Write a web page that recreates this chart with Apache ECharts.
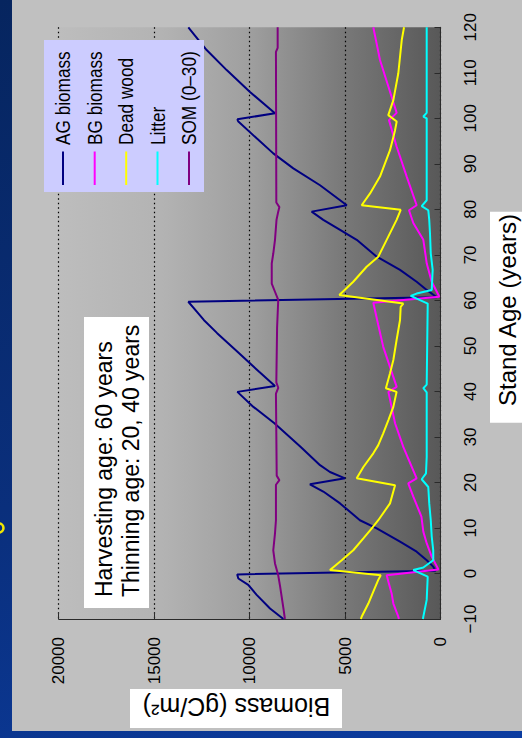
<!DOCTYPE html>
<html>
<head>
<meta charset="utf-8">
<title>Stand carbon pools</title>
<script src="https://cdn.jsdelivr.net/npm/echarts@6/dist/echarts.min.js"></script>
<style>
  html, body { margin: 0; padding: 0; width: 522px; height: 738px; overflow: hidden;
    background: linear-gradient(160deg, #06255f 0%, #0a2f7c 55%, #0b3ca0 100%); }
  #panel { position: absolute; left: 12px; top: 0; width: 510px; height: 731px; background: #c0c0c0; }
  #chart { position: absolute; left: 0; top: 0; width: 522px; height: 738px; }
</style>
</head>
<body>
<div id="panel"></div>
<div id="chart"></div>
<script>
// Tick values of the two axes
const ageTicks = [-10, 0, 10, 20, 30, 40, 50, 60, 70, 80, 90, 100, 110, 120];
const biomassTicks = [0, 5000, 10000, 15000, 20000];

// Pool names and colours
const poolNames = ['AG biomass', 'BG biomass', 'Dead wood', 'Litter', 'SOM (0\u201330)'];
const poolColors = ['#000080', '#ff00ff', '#ffff00', '#00ffff', '#800080'];

// Each pool: [stand age (years), carbon (gC/m2)]
const agBiomass = [[-10,8230],[-7.7,8930],[-4.7,9630],[-2.5,10070],[-1.1,10590],[-0.2,10650],[0.6,250],[1.5,380],[2.9,720],[4.8,1250],[7.0,2120],[9.9,3340],[11.7,4220],[15.4,5260],[18.0,6140],[19.6,6840],[20.9,5000],[22.3,5790],[23.8,6310],[27.8,7320],[30.0,7900],[33.0,8700],[36.6,9800],[39.9,10640],[41.2,8670],[44.3,9500],[48.4,10550],[52.8,11700],[55.7,12400],[57.2,12700],[59.7,13210],[60.7,200],[62.3,720],[64.1,1250],[66.7,2120],[69.6,3340],[73.3,4390],[75.5,5260],[77.7,6140],[79.5,6750],[80.9,4910],[85.3,6310],[89.0,7710],[92.3,8760],[95.6,9630],[99.3,10590],[99.8,10640],[101.1,8670],[105.8,9980],[110.6,11200],[115.0,12250],[120,13210]];
const bgBiomass = [[-10,2180],[-9.5,2210],[-6.6,2470],[-4.4,2560],[-1.8,2730],[-0.4,2820],[0.9,110],[3.7,460],[6.6,720],[9.2,900],[12.5,1000],[16.9,1425],[19.8,1690],[20.9,1250],[27.8,1950],[33.0,2380],[39.9,2730],[41.0,2295],[49.8,3000],[54.6,3260],[59.5,3520],[60.8,60],[64.1,460],[68.1,720],[73.3,900],[77.0,1425],[79.8,1650],[80.9,1250],[87.2,1770],[93.8,2300],[99.6,2700],[101.2,2295],[112.8,3170],[120,3520]];
const deadWood = [[-10,4170],[-9.5,4130],[-6.6,3780],[-4.0,3520],[-1.4,3260],[-0.4,3130],[0.75,5790],[2.9,5175],[5.1,4570],[7.7,4040],[9.9,3600],[11.7,3260],[15.4,2645],[19.4,2380],[20.9,4390],[23.4,4040],[26.4,3520],[28.2,3260],[30.8,3000],[33.7,2730],[36.6,2470],[39.9,2300],[40.7,2860],[44.0,2645],[46.9,2470],[51.3,2300],[55.7,2120],[58.6,2085],[59.3,1950],[61.2,5300],[64.1,4570],[67.4,3870],[69.6,3260],[73.3,2820],[77.7,2300],[79.9,2085],[80.9,4130],[83.5,3690],[87.2,3170],[93.0,2645],[97.4,2380],[99.3,2295],[100.7,2735],[104.0,2470],[109.9,2210],[117.2,2030],[120,1910]];
const litter = [[-10,920],[-9.5,900],[-5.8,723],[-0.7,670],[0.75,1425],[1.3,900],[2.9,380],[5.1,380],[8.1,460],[11.7,510],[15.4,590],[19.0,640],[20.7,985],[22.0,760],[25.6,723],[39.8,723],[40.7,900],[41.5,723],[59.3,670],[61.0,1560],[61.5,1250],[62.3,460],[66.7,410],[70.3,510],[74.7,550],[77.7,590],[79.8,640],[80.7,985],[82.0,723],[100.0,723],[100.4,900],[101.2,723],[120,723]];
const som = [[-10,8150],[-7.6,8230],[-2.9,8400],[-0.4,8500],[2.2,8670],[5.1,8760],[8.8,8670],[11.7,8620],[19.5,8620],[20.5,8440],[21.5,8580],[39.5,8620],[40.8,8500],[42.0,8600],[54.0,8560],[60.1,8500],[61.9,8670],[63.7,8840],[68.1,8840],[70.3,8760],[73.3,8670],[77.7,8590],[79.5,8500],[80.5,8440],[81.5,8600],[114.6,8620],[115.5,8530],[120,8530]];

const pools = [agBiomass, bgBiomass, deadWood, litter, som];

const chart = echarts.init(document.getElementById('chart'), null, { renderer: 'svg' });

const regular = '"Liberation Sans", Arial, Helvetica, sans-serif';

function rotatedText(text, x, y, size, rotation, align, squeeze) {
  return {
    type: 'text', z: 101, x: x, y: y, rotation: rotation,
    scaleX: squeeze || 1,
    style: { text: text, font: size + 'px ' + regular, fill: '#000',
      align: align, verticalAlign: 'middle', textAlign: align, textVerticalAlign: 'middle' }
  };
}

// Legend drawn as rotated graphic items (the whole figure is turned a quarter turn)
const legendCols = [63, 94.7, 126.2, 157.5, 189];
const graphics = [
  { type: 'rect', z: 100, shape: { x: 44, y: 40, width: 160, height: 152 }, style: { fill: '#ccccff' } }
];
poolNames.forEach((name, i) => {
  graphics.push({ type: 'line', z: 101, shape: { x1: legendCols[i], y1: 151.5, x2: legendCols[i], y2: 185 },
    style: { stroke: poolColors[i], lineWidth: 2 } });
  graphics.push(rotatedText(name, legendCols[i], 145, 21, Math.PI / 2, 'left', 0.82));
});

// Scenario note
graphics.push({ type: 'rect', z: 100, shape: { x: 84, y: 317, width: 65, height: 291 }, style: { fill: '#ffffff' } });
graphics.push(rotatedText('Harvesting age: 60 years', 103.5, 597, 23, Math.PI / 2, 'left'));
graphics.push(rotatedText('Thinning age: 20, 40 years', 130.5, 597, 23, Math.PI / 2, 'left'));

// Axis titles in white boxes
graphics.push({ type: 'rect', z: 100, shape: { x: 130, y: 689, width: 212, height: 39 }, style: { fill: '#ffffff' } });
graphics.push(rotatedText('Biomass (gC/m\u00b2)', 236.5, 707, 25, Math.PI, 'center'));
graphics.push({ type: 'rect', z: 100, shape: { x: 490, y: 211.7, width: 40, height: 211 }, style: { fill: '#ffffff' } });
graphics.push(rotatedText('Stand Age (years)', 507, 310, 24, Math.PI / 2, 'center'));

// Small yellow glyph fragment at the left border
graphics.push({ type: 'arc', z: 1, shape: { cx: -1, cy: 528, r: 4.5, startAngle: -Math.PI / 2, endAngle: Math.PI / 2 },
  style: { stroke: '#f2e600', lineWidth: 2.5, fill: null } });

const option = {
  animation: false,
  backgroundColor: 'transparent',
  grid: {
    left: 58.7, right: 81.5, top: 27.3, bottom: 119,
    show: true, borderWidth: 0,
    backgroundColor: {
      type: 'linear', x: 0, y: 0, x2: 1, y2: 0,
      colorStops: [
        { offset: 0, color: '#bdbdbd' },
        { offset: 0.27, color: '#b3b3b3' },
        { offset: 0.5, color: '#9f9f9f' },
        { offset: 0.75, color: '#787878' },
        { offset: 1, color: '#585858' }
      ]
    }
  },
  xAxis: {
    type: 'value',
    inverse: true,
    position: 'bottom',
    min: biomassTicks[0],
    max: biomassTicks[biomassTicks.length - 1],
    interval: biomassTicks[1] - biomassTicks[0],
    axisLine: { show: true, onZero: false, lineStyle: { color: '#2a2a2a', width: 1 } },
    axisTick: { show: true, inside: true, length: 5, lineStyle: { color: '#2a2a2a' } },
    axisLabel: { rotate: 90, margin: 18, fontSize: 17, fontFamily: regular, color: '#000',
      formatter: v => String(v) },
    splitLine: { show: true, lineStyle: { color: '#000', width: 1.2, type: [1.5, 3] } }
  },
  yAxis: {
    type: 'value',
    position: 'right',
    min: ageTicks[0],
    max: ageTicks[ageTicks.length - 1],
    interval: ageTicks[1] - ageTicks[0],
    axisLine: { show: true, onZero: false, lineStyle: { color: '#2a2a2a', width: 1 } },
    axisTick: { show: true, inside: true, length: 6, lineStyle: { color: '#2a2a2a' } },
    axisLabel: { rotate: 90, margin: 21, fontSize: 17, fontFamily: regular, color: '#000',
      formatter: v => (v < 0 ? '\u2212' + (-v) : String(v)) },
    splitLine: { show: false }
  },
  graphic: { elements: graphics },
  series: pools.map((pts, i) => ({
    type: 'line',
    name: poolNames[i],
    data: pts.map(p => [p[1], p[0]]),
    symbol: 'none',
    showSymbol: false,
    clip: true,
    lineStyle: { color: poolColors[i], width: 2 },
    itemStyle: { color: poolColors[i] }
  }))
};

chart.setOption(option);
</script>
</body>
</html>
